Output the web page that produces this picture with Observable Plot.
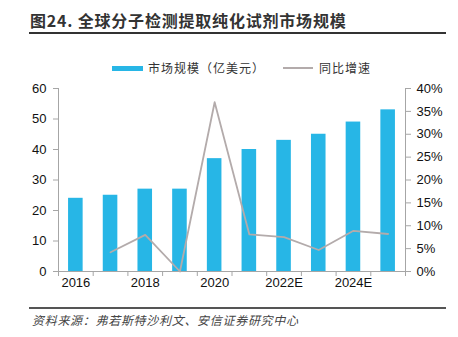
<!DOCTYPE html>
<html><head><meta charset="utf-8">
<script src="https://cdn.jsdelivr.net/npm/d3@7"></script>
<script src="https://cdn.jsdelivr.net/npm/@observablehq/plot@0.6"></script>
<style>
body{margin:0;background:#fff;}
#wrap{position:relative;width:458px;height:337px;overflow:hidden;font-family:"Noto Sans CJK SC","Liberation Sans",sans-serif;}
#title{position:absolute;left:30px;top:8px;font-size:16px;font-weight:bold;color:#333;letter-spacing:0.8px;white-space:nowrap;}
#tline{position:absolute;left:29px;top:32px;width:417px;height:2px;background:#333;}
#legend{position:absolute;top:59px;left:0;width:458px;height:18px;font-size:12px;color:#333;letter-spacing:1px;}
.lg{position:absolute;top:0;white-space:nowrap;line-height:18px;}
#fline{position:absolute;left:29px;top:307px;width:417px;height:2px;background:#555;}
#foot{position:absolute;left:32px;top:311px;font-size:12px;font-style:italic;color:#444;white-space:nowrap;letter-spacing:0.7px;}
#chart{position:absolute;left:0;top:80px;}
</style></head>
<body>
<div id="wrap">
  <div id="title"></div>
  <div id="tline"></div>
  <div id="legend"></div>
  <div id="chart"></div>
  <div id="fline"></div>
  <div id="foot"></div>
</div>
<script>
const titleText = "图24. 全球分子检测提取纯化试剂市场规模";
const sourceText = "资料来源：弗若斯特沙利文、安信证券研究中心";
const seriesNames = ["市场规模（亿美元）", "同比增速"];
const years = ["2016","2017","2018","2019","2020","2021","2022E","2023E","2024E","2025E"];
const marketSize = [24, 25, 27, 27, 37, 40, 43, 45, 49, 53];
const growth = [null, 4.2, 8.0, 0, 37.0, 8.1, 7.5, 4.7, 8.9, 8.2];
const leftTicks = [0, 10, 20, 30, 40, 50, 60];
const rightTicks = [0, 5, 10, 15, 20, 25, 30, 35, 40];
const xLabelYears = ["2016","2018","2020","2022E","2024E"];

const barColor = "#27B6E6";
const lineColor = "#B3ABAB";
const axisColor = "#A6A6A6";

document.getElementById("title").textContent = titleText;
document.getElementById("foot").textContent = sourceText;

// legend
const legend = document.getElementById("legend");
legend.innerHTML = `
  <div class="lg" style="left:112px;top:7px;width:31px;height:5px;background:${barColor}"></div>
  <div class="lg" style="left:148px">${seriesNames[0]}</div>
  <div class="lg" style="left:283px;top:8px;width:30px;height:2px;background:${lineColor}"></div>
  <div class="lg" style="left:319px">${seriesNames[1]}</div>`;

const data = years.map((y, i) => ({i, year: y, size: marketSize[i], g: growth[i]}));
const n = years.length;
const ratio = 60 / 40; // left scale units per percent
const boundaries = d3.range(n + 1).map(k => k - 0.5);
const labelIdx = xLabelYears.map(y => years.indexOf(y));

const chart = Plot.plot({
  width: 458,
  height: 220,
  marginLeft: 58,
  marginRight: 53,
  marginTop: 8,
  marginBottom: 29,
  style: {fontFamily: "'Liberation Sans', Arial, sans-serif", fontSize: "13px", color: "#111", background: "transparent"},
  x: {type: "linear", domain: [-0.5, n - 0.5], axis: null},
  y: {domain: [0, 60], axis: null},
  marks: [
    Plot.rectY(data, {x1: d => d.i - 0.21, x2: d => d.i + 0.21, y1: 0, y2: "size", fill: barColor}),
    Plot.ruleY([0], {stroke: axisColor, strokeWidth: 1.2}),
    Plot.ruleX([boundaries[0], boundaries[n]], {stroke: axisColor, strokeWidth: 1}),
    Plot.line(data, {x: "i", y: d => d.g == null ? NaN : d.g * ratio, stroke: lineColor, strokeWidth: 1.8}),
    Plot.axisY({anchor: "left", ticks: leftTicks, tickSize: 5, tickPadding: 7, stroke: axisColor, fill: "#111", label: null}),
    Plot.axisY({anchor: "right", ticks: rightTicks.map(t => t * ratio), tickFormat: d => Math.round(d / ratio) + "%", tickSize: 5, tickPadding: 6, stroke: axisColor, fill: "#111", label: null}),
    Plot.axisX({ticks: boundaries, tickSize: 5, tickFormat: () => "", stroke: axisColor, label: null}),
    Plot.axisX({ticks: labelIdx, tickSize: 0, tickPadding: 6, tickFormat: i => years[i], fill: "#111", label: null})
  ]
});
document.getElementById("chart").appendChild(chart);
</script>
</body></html>
